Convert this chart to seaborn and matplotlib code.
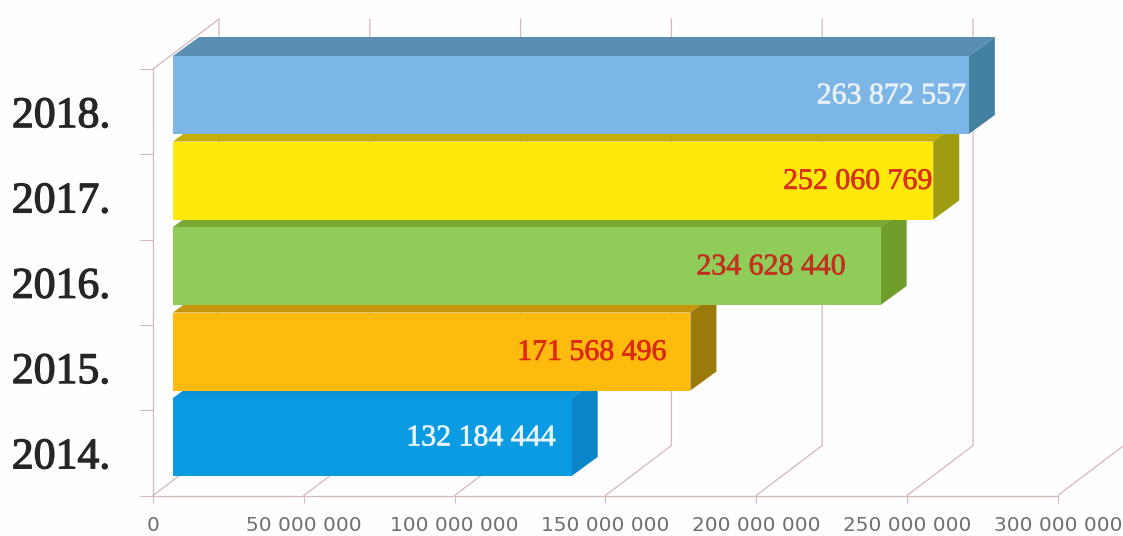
import matplotlib
matplotlib.use("Agg")
import matplotlib.pyplot as plt
import matplotlib.patheffects as pe
from matplotlib.patches import Polygon
import pandas as pd
import seaborn as sns

# Chart data, top bar first
years = ["2018.", "2017.", "2016.", "2015.", "2014."]
totals = [263872557, 252060769, 234628440, 171568496, 132184444]
x_ticks = [0, 50000000, 100000000, 150000000, 200000000, 250000000, 300000000]

# Colours per bar
front_colors = ["#7bb6e6", "#ffe90c", "#90cc5a", "#ffba0e", "#0a9be3"]
top_colors = ["#5a8fb2", "#c4ae00", "#7aa832", "#c8960a", "#0c93da"]
side_colors = ["#44809f", "#a09c12", "#6f9e2a", "#9a7a08", "#0a86c8"]
label_colors = ["#e9f1f8", "#d8321a", "#c2301e", "#dc2a14", "#eaf4fb"]
label_gaps = [3, 1, 35, 24, 16]  # pixels between bar end and value label

W, H = 1123, 536
LINE = "#d3b8bc"
PX_PER_VALUE = 150.8 / 50000000


def box(left, top, right, bottom):
    return [left / W, 1 - bottom / H, (right - left) / W, (bottom - top) / H]


def spaced(v):
    return f"{v:,}".replace(",", " ")


sns.set_theme(style="white")
fig = plt.figure(figsize=(W / 100, H / 100), dpi=100, facecolor="#fefefe")

# Wall axes: the frame, ticks and receding grid lines
wall = fig.add_axes(box(153, 69, 153 + 300000000 * PX_PER_VALUE, 495.5), facecolor="none")
wall.set_xlim(0, 300000000)
wall.set_ylim(0, 5)
sns.despine(ax=wall)
for side in ["left", "bottom"]:
    wall.spines[side].set_color(LINE)
    wall.spines[side].set_linewidth(0.9)

wall.set_xticks(x_ticks)
wall.set_xticklabels([spaced(v) for v in x_ticks], family="DejaVu Sans", fontsize=14.4, color="#707070")
wall.tick_params(axis="x", bottom=True, length=5, width=0.8, color=LINE, pad=10)

wall.set_yticks(range(6))
wall.set_yticklabels([])
wall.set_yticks([i + 0.5 for i in range(5)], labels=years[::-1], minor=True)
wall.tick_params(axis="y", which="major", left=True, length=9.5, width=0.8, color=LINE)
wall.tick_params(axis="y", which="minor", left=False, length=0, pad=31)
for lab in wall.get_yticklabels(minor=True):
    lab.set_family("Liberation Serif")
    lab.set_fontsize(31.5)
    lab.set_color("#262626")
    lab.set_path_effects([pe.withStroke(linewidth=0.9, foreground="#262626")])

back_x = 66 / PX_PER_VALUE
back_y = 50 / (426.5 / 5)
for v in x_ticks:
    wall.plot([v, v + back_x, v + back_x], [0, back_y, 5 + back_y], color=LINE, lw=0.9, clip_on=False, zorder=1)
wall.plot([0, back_x], [5, 5 + back_y], color=LINE, lw=0.9, clip_on=False, zorder=1)

# Bar axes: front plane of the bars
ax = fig.add_axes(box(173, 52.25, 173 + 300000000 * PX_PER_VALUE, 479.75), facecolor="none")
df = pd.DataFrame({"year": years, "total": totals})
sns.barplot(data=df, x="total", y="year", hue="year", order=years, hue_order=years,
            palette=front_colors, saturation=1, width=78 / 85.5, dodge=False, legend=False, ax=ax)
ax.set_xlim(0, 300000000)
ax.set_ylim(4.5, -0.5)
ax.axis("off")

depth_x = 26 / PX_PER_VALUE
depth_y = 19 / 85.5
half = 78 / 85.5 / 2

for i, container in enumerate(ax.containers):
    z = 20 - 2 * i
    total = totals[i]
    for bar in container:
        bar.set_zorder(z)
        bar.set_linewidth(0)
    top = i - half
    bottom = i + half
    ax.add_patch(Polygon([(0, top), (depth_x, top - depth_y), (total + depth_x, top - depth_y), (total, top)],
                         closed=True, facecolor=top_colors[i], edgecolor="none", zorder=z - 1, clip_on=False))
    ax.add_patch(Polygon([(total, top), (total + depth_x, top - depth_y), (total + depth_x, bottom - depth_y), (total, bottom)],
                         closed=True, facecolor=side_colors[i], edgecolor="none", zorder=z - 1, clip_on=False))
    txt = ax.annotate(spaced(total), xy=(total, i), xytext=(-label_gaps[i] * 0.72, -1), textcoords="offset points",
                      ha="right", va="center", family="Liberation Serif", fontsize=21.5,
                      color=label_colors[i], zorder=30)
    txt.set_path_effects([pe.withStroke(linewidth=0.5, foreground=label_colors[i])])

fig.savefig("out.png", dpi=100, facecolor=fig.get_facecolor())
